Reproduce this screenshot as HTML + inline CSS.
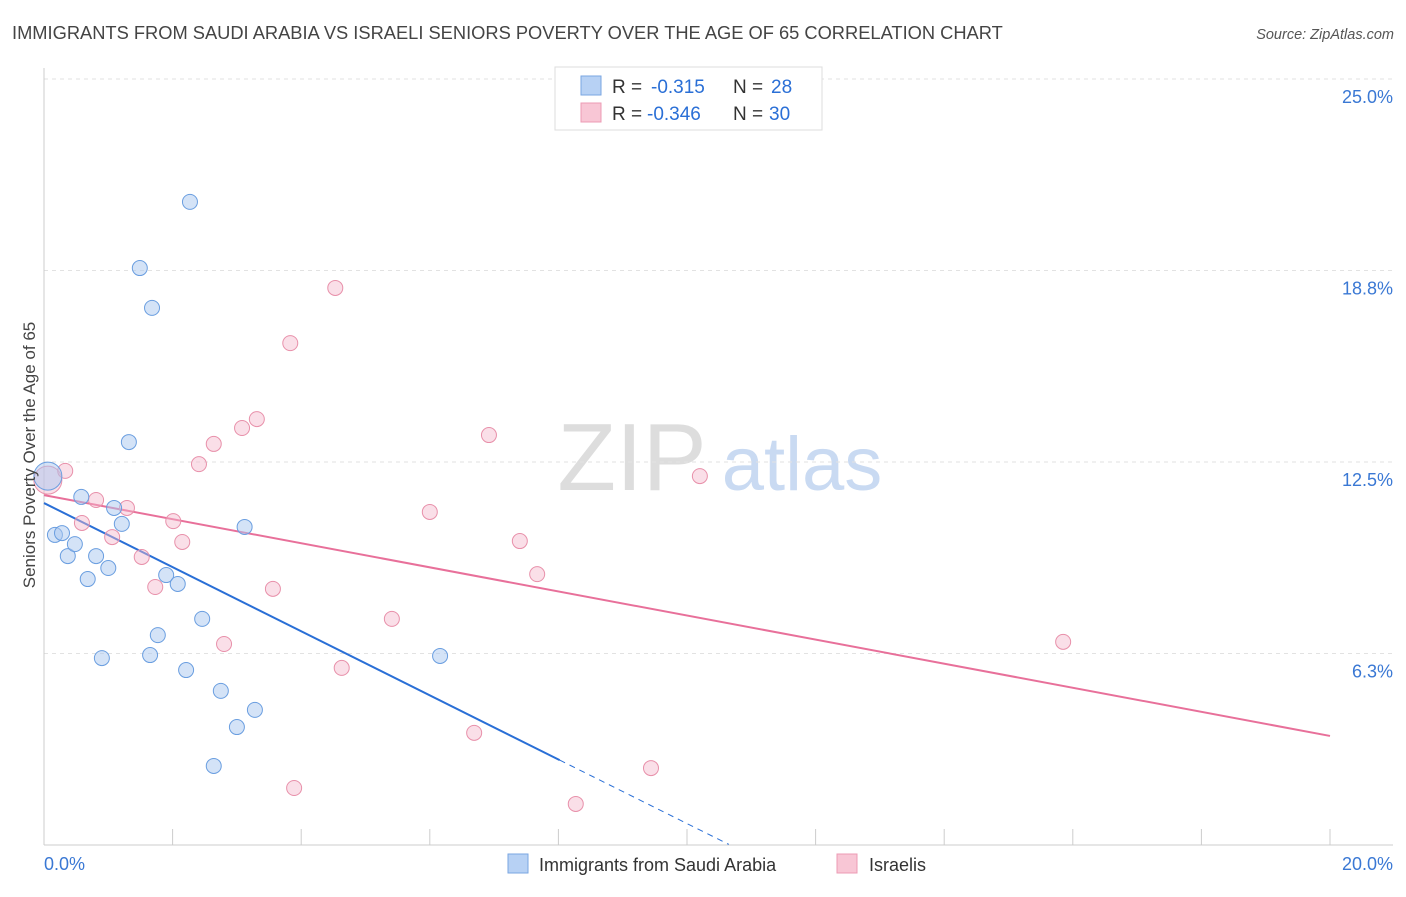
<!DOCTYPE html>
<html><head><meta charset="utf-8"><style>
body{margin:0;background:#fff;font-family:"Liberation Sans",sans-serif}
svg text{font-family:"Liberation Sans",sans-serif}
</style></head><body>
<svg id="c" width="1406" height="892" viewBox="0 0 1406 892">
<text x="12" y="39" font-size="18.3" fill="#444">IMMIGRANTS FROM SAUDI ARABIA VS ISRAELI SENIORS POVERTY OVER THE AGE OF 65 CORRELATION CHART</text>
<text x="1394" y="39" font-size="14.5" fill="#555" font-style="italic" text-anchor="end">Source: ZipAtlas.com</text>
<g><text x="632" y="490" font-size="96" fill="#ddd" font-family="Liberation Serif,serif" text-anchor="middle">ZIP</text><text x="802" y="490" font-size="76" fill="#c9daf2" text-anchor="middle">atlas</text></g>
<g id="grid"></g><g id="axes"></g><g id="lines"></g><g id="pts"></g>
<text x="-455" y="35" transform="rotate(-90)" font-size="17" fill="#444" text-anchor="middle">Seniors Poverty Over the Age of 65</text>
<g>
<rect x="555" y="67" width="267" height="63" fill="#fff" stroke="#ddd"/>
<rect x="581" y="76" width="20" height="19" fill="#b7d1f4" stroke="#7aa6e2"/>
<text x="612" y="93" font-size="19" fill="#333">R =</text><text x="651" y="93" font-size="19" fill="#2a6fd6">-0.315</text>
<text x="733" y="93" font-size="19" fill="#333">N =</text><text x="771" y="93" font-size="19" fill="#2a6fd6">28</text>
<rect x="581" y="103" width="20" height="19" fill="#f8c6d5" stroke="#ec9bb4"/>
<text x="612" y="120" font-size="19" fill="#333">R =</text><text x="647" y="120" font-size="19" fill="#2a6fd6">-0.346</text>
<text x="733" y="120" font-size="19" fill="#333">N =</text><text x="769" y="120" font-size="19" fill="#2a6fd6">30</text>
</g>
<g>
<rect x="508" y="854" width="20" height="19" fill="#b7d1f4" stroke="#7aa6e2"/>
<text x="539" y="871" font-size="18" fill="#333">Immigrants from Saudi Arabia</text>
<rect x="837" y="854" width="20" height="19" fill="#f8c6d5" stroke="#ec9bb4"/>
<text x="869" y="871" font-size="18" fill="#333">Israelis</text>
</g>
</svg>
<script>
const blueX=[0.06,0.17,0.28,0.37,0.48,0.58,0.68,0.81,0.90,1.0,1.09,1.21,1.32,1.49,1.65,1.68,1.77,1.90,2.08,2.21,2.27,2.46,2.64,2.75,3.0,3.12,3.28,6.16];
const blueY=[12.04,10.12,10.18,9.43,9.82,11.36,8.68,9.43,6.10,9.04,11.0,10.48,13.15,18.83,6.20,17.53,6.85,8.81,8.52,5.71,20.99,7.38,2.58,5.03,3.85,10.38,4.41,6.17];
const pinkX=[0.06,0.33,0.59,0.81,1.06,1.29,1.52,1.73,2.01,2.15,2.41,2.64,2.80,3.08,3.31,3.56,3.83,3.89,4.53,4.63,5.41,6.0,6.69,6.92,7.40,7.67,8.27,9.44,10.20,15.85];
const pinkY=[11.91,12.21,10.51,11.26,10.05,11.0,9.40,8.42,10.57,9.89,12.43,13.09,6.56,13.61,13.90,8.36,16.38,1.86,18.18,5.78,7.38,10.87,3.66,13.38,9.92,8.84,1.34,2.51,12.04,6.63];
const yTicks=[25.0,18.75,12.5,6.25];
const yTickLabels=["25.0%","18.8%","12.5%","6.3%"];
const blueLine=[11.16,-1.046,8.02,10.65];
const pinkLine=[11.42,3.56];
const NS="http://www.w3.org/2000/svg";
const X=v=>44+v/20*1286, Y=v=>845-v/25*766;
function mk(p,t,a){const e=document.createElementNS(NS,t);for(const k in a)e.setAttribute(k,a[k]);document.getElementById(p).appendChild(e);return e;}
yTicks.forEach((t,i)=>{
 const g=mk('grid','line',{x1:44,x2:1393,y1:Y(t),y2:Y(t),stroke:'#e2e2e2','stroke-dasharray':'4,4'});
 
 
 const tx=mk('grid','text',{x:1393,y:Y(t)+24,'font-size':18,fill:'#3a78d4','text-anchor':'end'});
 tx.textContent=yTickLabels[i];
 
 
});
let a=mk('axes','line',{x1:44,x2:44,y1:68,y2:845,stroke:'#ccc'});


a=mk('axes','line',{x1:44,x2:1393,y1:845,y2:845,stroke:'#ccc'});


for(let i=0;i<=10;i++){const t=mk('axes','line',{x1:X(i*2),x2:X(i*2),y1:829,y2:845,stroke:'#ccc'});
 
 }
let l=mk('axes','text',{x:44,y:870,'font-size':18,fill:'#3a78d4'});l.textContent='0.0%';


l=mk('axes','text',{x:1393,y:870,'font-size':18,fill:'#3a78d4','text-anchor':'end'});l.textContent='20.0%';


function dot(x,y,big,blue){const c=mk('pts','circle',{cx:X(x),cy:Y(y),r:big?14:7.5,fill:blue?'rgba(169,200,240,0.5)':'rgba(245,184,203,0.45)',stroke:blue?'#6a9ee0':'#e890aa','stroke-width':1});
 
 }
pinkX.forEach((x,i)=>dot(x,pinkY[i],i==0,false));
blueX.forEach((x,i)=>dot(x,blueY[i],i==0,true));
const b0=blueLine[0],bs=blueLine[1];
let ln=mk('lines','line',{x1:X(0),y1:Y(b0),x2:X(blueLine[2]),y2:Y(b0+bs*blueLine[2]),stroke:'#2a6fd6','stroke-width':2});


ln=mk('lines','line',{x1:X(blueLine[2]),y1:Y(b0+bs*blueLine[2]),x2:X(blueLine[3]),y2:Y(Math.max(0,b0+bs*blueLine[3])),stroke:'#2a6fd6','stroke-width':1,'stroke-dasharray':'6,5'});


ln=mk('lines','line',{x1:X(0),y1:Y(pinkLine[0]),x2:X(20),y2:Y(pinkLine[1]),stroke:'#e8709a','stroke-width':2});


</script>
</body></html>
